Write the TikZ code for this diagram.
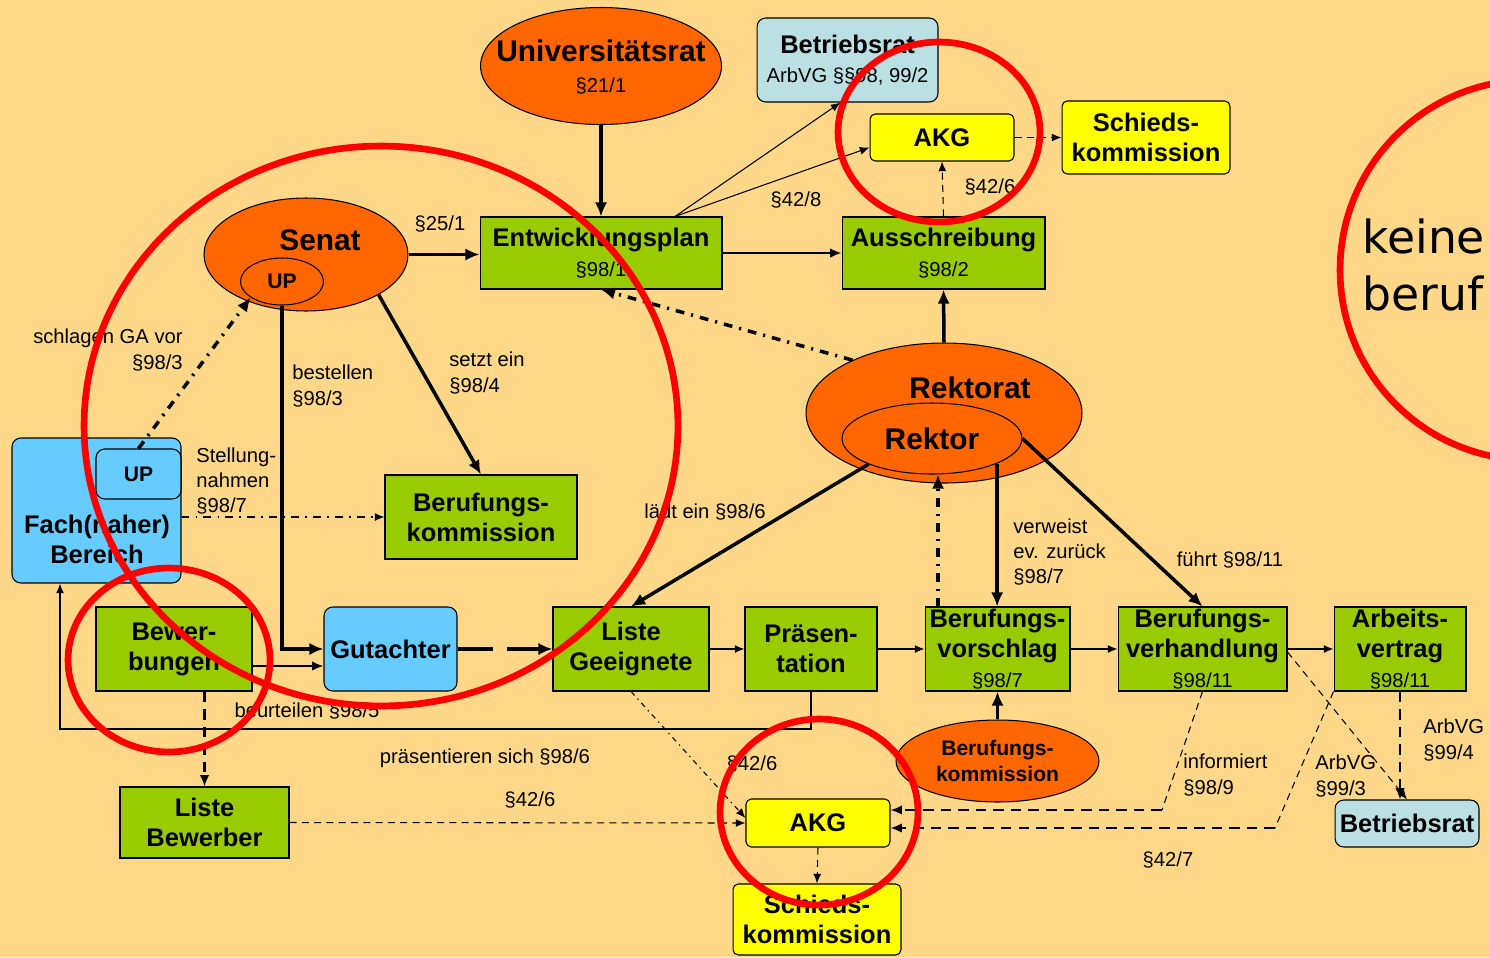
\documentclass[tikz,border=0pt]{standalone}
\usepackage{fontspec}
\setmainfont{Liberation Sans}
\newfontfamily\dejavu{DejaVu Sans}
\usepackage{xcolor}
\definecolor{bgsand}{HTML}{FED789}
\definecolor{organorange}{HTML}{FF6600}
\definecolor{stepgreen}{HTML}{99CC00}
\definecolor{akgyellow}{HTML}{FFFF00}
\definecolor{fachblue}{HTML}{66CCFF}
\definecolor{brcyan}{HTML}{BBE0E3}
\definecolor{ringred}{HTML}{FF0000}
\usetikzlibrary{shapes.geometric, arrows.meta, calc}

\newcommand{\lawref}[1]{{\mdseries\fontsize{11.5}{14}\selectfont #1}}

\tikzset{
  boxtext/.style={font=\bfseries\fontsize{14.5}{17}\selectfont, align=center, inner sep=0pt},
  greenbox/.style={boxtext, draw, line width=0.6pt, fill=stepgreen},
  bluebox/.style={boxtext, draw, line width=0.6pt, fill=fachblue, rounded corners=5pt},
  yellowbox/.style={boxtext, draw, line width=0.6pt, fill=akgyellow, rounded corners=3pt},
  cyanbox/.style={boxtext, draw, line width=0.6pt, fill=brcyan, rounded corners=5pt},
  organ/.style={ellipse, draw, line width=0.6pt, fill=organorange, inner sep=0pt,
                align=center, font=\bfseries\fontsize{17}{20}\selectfont},
  organtext/.style={boxtext, font=\bfseries\fontsize{17}{17.5}\selectfont},
  lbl/.style={font=\fontsize{11.5}{14.5}\selectfont, inner sep=0pt},
  thinarr/.style={line width=0.6pt, -{Latex[length=5.5pt,width=4.5pt]}},
  midarr/.style={line width=1.2pt, -{Latex[length=6.5pt,width=5.5pt]}},
  thickarr/.style={line width=2pt, -{Latex[length=8pt,width=7pt]}},
  fineline/.style={line width=0.6pt},
  finedash/.style={dash pattern=on 4pt off 3pt},
  middash/.style={dash pattern=on 6pt off 4pt},
  longdash/.style={dash pattern=on 20pt off 8pt},
  thickdashdot/.style={dash pattern=on 5pt off 4pt on 1.2pt off 4pt},
  thindashdot/.style={dash pattern=on 4.5pt off 3.5pt on 1pt off 3.5pt},
  tinydashdot/.style={dash pattern=on 3pt off 2.5pt on 0.8pt off 2.5pt},
  redring/.style={draw=ringred, line width=3.8pt},
}

\begin{document}
\begin{tikzpicture}[x=0.02cm, y=-0.02cm]
  \fill[bgsand] (0,0) rectangle (1490,957);
  \useasboundingbox (0,0) rectangle (1490,957);

  % Organe
  \node[organ, minimum width=4.82cm, minimum height=2.34cm] (unirat) at (601,66) {};
  \node[organtext] (uniratlbl) at (601,67) {Universitätsrat\\\lawref{§21/1}};
  \node[organ, minimum width=4.08cm, minimum height=2.26cm] (senat) at (306,254.5) {};
  \node[organtext] (senatlbl) at (320,240) {Senat};
  \node[organ, font=\bfseries\fontsize{12}{14}\selectfont,
        minimum width=1.66cm, minimum height=0.94cm] (senatup) at (282,281.5) {UP};
  \node[organ, minimum width=5.52cm, minimum height=2.80cm] (rektorat) at (944,413) {};
  \node[organtext] (rektoratlbl) at (970,388) {Rektorat};
  \node[organ, minimum width=3.60cm, minimum height=1.42cm] (rektor) at (932,438.5) {Rektor};
  \node[organ, font=\bfseries\fontsize{12}{14.5}\selectfont,
        minimum width=4.06cm, minimum height=1.64cm] (bkell) at (997.5,761) {Berufungs-\\kommission};

  % Kaesten
  \node[cyanbox, minimum width=3.62cm, minimum height=1.68cm] (betrtop) at (847.5,60)
    {Betriebsrat\\\lawref{ArbVG §§98, 99/2}};
  \node[yellowbox, minimum width=2.88cm, minimum height=0.94cm] (akgtop) at (942,137.5) {AKG};
  \node[yellowbox, minimum width=3.36cm, minimum height=1.46cm] (schtop) at (1146,137.5) {Schieds-\\kommission};
  \node[greenbox, minimum width=4.84cm, minimum height=1.44cm] (entw) at (601,253)
    {Entwicklungsplan\\\lawref{§98/1}};
  \node[greenbox, minimum width=4.06cm, minimum height=1.44cm] (aussch) at (943.5,253)
    {Ausschreibung\\\lawref{§98/2}};
  \node[bluebox, minimum width=3.38cm, minimum height=2.90cm] (fach) at (96.5,510.5) {};
  \node[boxtext] (fachlbl) at (97,539) {Fach(naher)\\Bereich};
  \node[bluebox, font=\bfseries\fontsize{12}{14}\selectfont,
        minimum width=1.70cm, minimum height=1.00cm] (fachup) at (138.5,474) {UP};
  \node[greenbox, minimum width=3.84cm, minimum height=1.68cm] (bkbox) at (481,517) {Berufungs-\\kommission};
  \node[greenbox, minimum width=3.12cm, minimum height=1.68cm] (bew) at (174,649) {Bewer-\\bungen};
  \node[bluebox, minimum width=2.66cm, minimum height=1.68cm] (gut) at (390.5,649) {Gutachter};
  \node[greenbox, minimum width=3.12cm, minimum height=1.68cm] (lg) at (631,649) {Liste\\Geeignete};
  \node[greenbox, minimum width=2.64cm, minimum height=1.68cm] (praes) at (811,649) {Präsen-\\tation};
  \node[greenbox, minimum width=2.90cm, minimum height=1.68cm] (bvs) at (997.5,649)
    {Berufungs-\\vorschlag\\\lawref{§98/7}};
  \node[greenbox, minimum width=3.38cm, minimum height=1.68cm] (bvh) at (1202.5,649)
    {Berufungs-\\verhandlung\\\lawref{§98/11}};
  \node[greenbox, minimum width=2.64cm, minimum height=1.68cm] (av) at (1400,649)
    {Arbeits-\\vertrag\\\lawref{§98/11}};
  \node[greenbox, minimum width=3.38cm, minimum height=1.42cm] (lbew) at (204.5,822.5) {Liste\\Bewerber};
  \node[yellowbox, minimum width=2.88cm, minimum height=0.96cm] (akgbot) at (818,823) {AKG};
  \node[yellowbox, minimum width=3.36cm, minimum height=1.42cm] (schbot) at (817,919.5) {Schieds-\\kommission};
  \node[cyanbox, minimum width=2.88cm, minimum height=0.94cm] (betrbot) at (1407,823.5) {Betriebsrat};

  % Verbindungen
  \draw[thickarr] (unirat.south) -- (entw.north);
  \draw[thickarr] (senat.east) -- (senat.east -| entw.west);
  \draw[midarr] (entw.east) -- (aussch.west);
  \coordinate (entwtop) at ([xshift=1.48cm]entw.north);
  \draw[thinarr] (entwtop) -- ([xshift=-0.14cm]betrtop.south);
  \draw[thinarr] (entwtop) -- ([yshift=-0.2cm]akgtop.west);
  \draw[thinarr, finedash] (aussch.north) -- (akgtop.south);
  \draw[thinarr, finedash] (akgtop.east) -- (schtop.west);
  \draw[thickarr] (rektorat.north) -- (aussch.south);
  \draw[thickarr, thickdashdot] (rektorat.150) -- (entw.south);
  \draw[thickarr, thickdashdot] (fachup.north) -- (senatup.207);
  \draw[thickarr] (senatup.south) |- (gut.west);
  \draw[thickarr] (senat.-29) -- (bkbox.north);
  \draw[thinarr, thindashdot] (bkbox.west -| fach.east) -- (bkbox.west);
  \draw[midarr] ([yshift=-0.34cm]bew.east) -- ([yshift=-0.34cm]gut.west);
  \draw[thickarr, longdash] (gut.east) -- (lg.west);
  \draw[thickarr] (rektor.202) -- (lg.north);
  \foreach \from/\to in {lg/praes, praes/bvs, bvs/bvh, bvh/av}
    \draw[thinarr] (\from) -- (\to);
  \coordinate (vsleft) at ([xshift=-1.19cm]bvs.north);
  \draw[thickarr, thickdashdot] (vsleft) -- (vsleft |- rektor.south);
  \draw[thickarr] (rektor.-21) -- (rektor.-21 |- bvs.north);
  \draw[thickarr] (rektor.east) -- (bvh.north);
  \draw[thickarr] (bkell.north) -- (bvs.south);
  \coordinate (beurt) at (60,729);
  \draw[thinarr] (praes.south) |- (beurt) -- (beurt |- fach.south);
  \draw[midarr, middash] (lbew.north |- bew.south) -- (lbew.north);
  \draw[thinarr, finedash] (lbew.east) -- (akgbot.west);
  \draw[thinarr, tinydashdot] (lg.south) -- ([yshift=0.1cm]akgbot.west);
  \coordinate (infknick) at (1162,810);
  \coordinate (arbknick) at (1275,828);
  \draw[fineline, finedash] (bvh.south) -- (infknick);
  \draw[midarr, middash] (infknick) -- (infknick -| akgbot.east);
  \draw[fineline, finedash] (av.south west) -- (arbknick);
  \draw[midarr, middash] (arbknick) -- (arbknick -| akgbot.east);
  \draw[thinarr, finedash] ([yshift=-0.06cm]bvh.east) -- (betrbot.north);
  \draw[midarr, middash] (av.south) -- (av.south |- betrbot.north);
  \draw[thinarr, finedash] (akgbot.south) -- (schbot.north);

  % Beschriftungen
  \node[lbl] (l251) at (440,224) {§25/1};
  \node[lbl] (l428) at (796,200) {§42/8};
  \node[lbl] (l426top) at (990,187) {§42/6};
  \node[lbl, align=right, anchor=east] (lschlagen) at (183,350) {schlagen GA vor\\§98/3};
  \node[lbl, align=left, anchor=west] (lbestellen) at (292,386) {bestellen\\§98/3};
  \node[lbl, align=left, anchor=west] (lsetzt) at (449,373) {setzt ein\\§98/4};
  \node[lbl, align=left, anchor=west] (lstellung) at (196,481) {Stellung-\\nahmen\\§98/7};
  \node[lbl] (lladt) at (705,512) {lädt ein §98/6};
  \node[lbl, align=left, anchor=west] (lverweist) at (1013,552) {verweist\\ev. zurück\\§98/7};
  \node[lbl] (lfuehrt) at (1230,560) {führt §98/11};
  \node[lbl] (lbeurt) at (307,711) {beurteilen §98/5};
  \node[lbl] (lpraes) at (485,758) {präsentieren sich §98/6};
  \node[lbl] (l426a) at (530,800) {§42/6};
  \node[lbl] (l426b) at (752,764) {§42/6};
  \node[lbl, align=left, anchor=west] (linform) at (1183,775) {informiert\\§98/9};
  \node[lbl, align=left, anchor=west] (l993) at (1315,776) {ArbVG\\§99/3};
  \node[lbl, align=left, anchor=west] (l994) at (1423,740) {ArbVG\\§99/4};
  \node[lbl] (l427) at (1168,860) {§42/7};

  \node[font=\dejavu\fontsize{26}{32}\selectfont, align=left, anchor=west, inner sep=0pt]
    (keine) at (1362,265) {keine\\beruf};

  % Markierungen
  \draw[redring] (381,426) ellipse [x radius=5.94cm, y radius=5.60cm];
  \draw[redring] (169,660) ellipse [x radius=2.02cm, y radius=1.84cm];
  \draw[redring] (939,132) ellipse [x radius=2.02cm, y radius=1.80cm];
  \draw[redring] (819,812) ellipse [x radius=1.98cm, y radius=1.86cm];
  \draw[redring] (1530,270) circle [radius=3.8cm];
\end{tikzpicture}
\end{document}
